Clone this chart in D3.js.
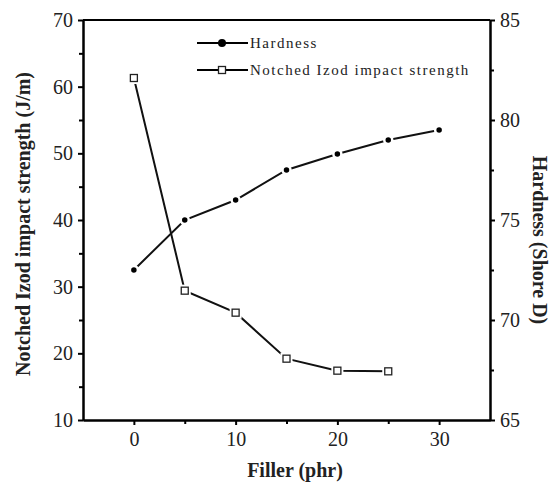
<!DOCTYPE html>
<html>
<head>
<meta charset="utf-8">
<script src="https://cdn.jsdelivr.net/npm/d3@7"></script>
<style>
  body { margin: 0; background: #fff; }
  svg text { font-family: "Liberation Serif", "DejaVu Serif", serif; }
</style>
</head>
<body>
<div class="canvas"></div>
<script>
// data
const filler = [0, 5, 10, 15, 20, 25, 30];
const hardness = [72.5, 75.0, 76.0, 77.5, 78.3, 79.0, 79.5];
const impactFiller = [0, 5, 10, 15, 20, 25];
const impact = [61.3, 29.4, 26.1, 19.2, 17.4, 17.3];
const xTicks = [0, 10, 20, 30];
const xMinor = [5, 15, 25];
const leftTicks = [10, 20, 30, 40, 50, 60, 70];
const rightTicks = [65, 70, 75, 80, 85];

const chartSet = { width: 551, height: 484 };
const plot = { left: 83, right: 490, top: 20, bottom: 420 };
const serif = '"Liberation Serif", "DejaVu Serif", serif';

const svg = d3.select(".canvas").append("svg")
  .attr("width", chartSet.width)
  .attr("height", chartSet.height);

const x = d3.scaleLinear().domain([-5, 35]).range([plot.left, plot.right]);
const yL = d3.scaleLinear().domain([10, 70]).range([plot.bottom, plot.top]);
const yR = d3.scaleLinear().domain([65, 85]).range([plot.bottom, plot.top]);

// minor ticks (midpoints)
const minor = (ticks) => ticks.slice(0, -1).map((t, i) => (t + ticks[i + 1]) / 2);

const styleAxis = (g) => {
  g.attr("font-family", serif);
  g.select(".domain").attr("stroke", "#000").attr("stroke-width", 2);
  g.selectAll(".tick line").attr("stroke", "#000").attr("stroke-width", 2);
  g.selectAll("text").attr("font-size", 20).attr("fill", "#222")
    .style("font-family", serif);
};

// x axis
svg.append("g")
  .attr("transform", `translate(0,${plot.bottom})`)
  .call(d3.axisBottom(x).tickValues(xTicks).tickSize(5).tickSizeOuter(0).tickPadding(7))
  .call(styleAxis);
svg.append("g")
  .attr("transform", `translate(0,${plot.bottom})`)
  .call(d3.axisBottom(x).tickValues(xMinor).tickSize(4).tickSizeOuter(0).tickFormat(""))
  .call(styleAxis);

// top line
svg.append("line")
  .attr("x1", plot.left).attr("x2", plot.right)
  .attr("y1", plot.top).attr("y2", plot.top)
  .attr("stroke", "#000").attr("stroke-width", 2);

// left axis
svg.append("g")
  .attr("transform", `translate(${plot.left},0)`)
  .call(d3.axisLeft(yL).tickValues(leftTicks).tickSize(5).tickSizeOuter(0).tickPadding(5))
  .call(styleAxis);
svg.append("g")
  .attr("transform", `translate(${plot.left},0)`)
  .call(d3.axisLeft(yL).tickValues(minor(leftTicks)).tickSize(4).tickSizeOuter(0).tickFormat(""))
  .call(styleAxis);

// right axis
svg.append("g")
  .attr("transform", `translate(${plot.right},0)`)
  .call(d3.axisRight(yR).tickValues(rightTicks).tickSize(5).tickSizeOuter(0).tickPadding(5))
  .call(styleAxis);
svg.append("g")
  .attr("transform", `translate(${plot.right},0)`)
  .call(d3.axisRight(yR).tickValues(minor(rightTicks)).tickSize(4).tickSizeOuter(0).tickFormat(""))
  .call(styleAxis);

// axis titles
svg.append("text")
  .attr("x", 295).attr("y", 477)
  .attr("text-anchor", "middle").attr("font-size", 20).attr("font-weight", "bold").attr("fill", "#222")
  .text("Filler (phr)");
svg.append("text")
  .attr("transform", `translate(30,224) rotate(-90)`)
  .attr("text-anchor", "middle").attr("font-size", 20).attr("font-weight", "bold").attr("fill", "#222")
  .text("Notched Izod impact strength (J/m)");
svg.append("text")
  .attr("transform", `translate(533,240) rotate(90)`)
  .attr("text-anchor", "middle").attr("font-size", 20).attr("font-weight", "bold").attr("fill", "#222")
  .text("Hardness (Shore D)");

// lines
const hardData = filler.map((f, i) => ({ x: f, y: hardness[i] }));
const impData = impactFiller.map((f, i) => ({ x: f, y: impact[i] }));

const lineR = d3.line().x((d) => x(d.x)).y((d) => yR(d.y));
const lineL = d3.line().x((d) => x(d.x)).y((d) => yL(d.y));

svg.append("path").datum(hardData)
  .attr("d", lineR).attr("fill", "none").attr("stroke", "#111").attr("stroke-width", 2);
svg.append("path").datum(impData)
  .attr("d", lineL).attr("fill", "none").attr("stroke", "#111").attr("stroke-width", 2);

// markers with white halo
svg.selectAll(".hard").data(hardData).enter().append("circle")
  .attr("cx", (d) => x(d.x)).attr("cy", (d) => yR(d.y)).attr("r", 4)
  .attr("fill", "#000").attr("stroke", "#fff").attr("stroke-width", 2.5);
svg.selectAll(".imp-halo").data(impData).enter().append("rect")
  .attr("x", (d) => x(d.x) - 6).attr("y", (d) => yL(d.y) - 6)
  .attr("width", 12).attr("height", 12).attr("fill", "#fff");
svg.selectAll(".imp").data(impData).enter().append("rect")
  .attr("x", (d) => x(d.x) - 3.5).attr("y", (d) => yL(d.y) - 3.5)
  .attr("width", 7).attr("height", 7)
  .attr("fill", "#fff").attr("stroke", "#222").attr("stroke-width", 1.3);

// legend
const legend = svg.append("g").attr("transform", "translate(197,0)");
legend.append("line").attr("x1", 0).attr("x2", 51).attr("y1", 43).attr("y2", 43)
  .attr("stroke", "#000").attr("stroke-width", 2);
legend.append("circle").attr("cx", 25).attr("cy", 43).attr("r", 4).attr("fill", "#000");
legend.append("text").attr("x", 53).attr("y", 48).attr("font-size", 15)
  .attr("letter-spacing", 1.5).attr("fill", "#222").text("Hardness");
legend.append("line").attr("x1", 0).attr("x2", 51).attr("y1", 70).attr("y2", 70)
  .attr("stroke", "#000").attr("stroke-width", 2);
legend.append("rect").attr("x", 21.5).attr("y", 66.5).attr("width", 7).attr("height", 7)
  .attr("fill", "#fff").attr("stroke", "#222").attr("stroke-width", 1.3);
legend.append("text").attr("x", 53).attr("y", 75).attr("font-size", 15)
  .attr("letter-spacing", 1.5).attr("fill", "#222").text("Notched Izod impact strength");
</script>
</body>
</html>
